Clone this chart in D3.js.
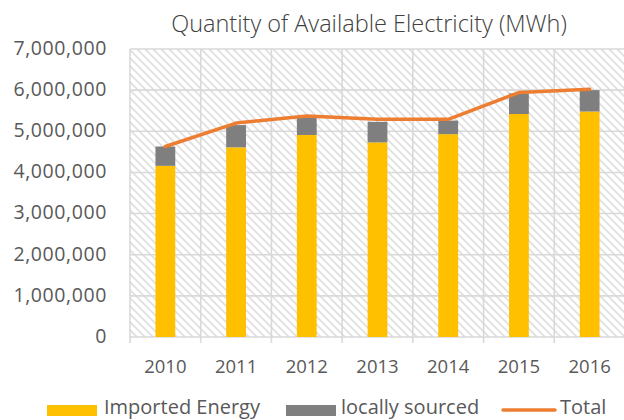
<!DOCTYPE html>
<head>
<meta charset="utf-8">
<title>Quantity of Available Electricity</title>
<style>
   body {
		   margin: 0;
		   background: #ffffff;
   }
   text {
		   font-family: "Open Sans", "Noto Sans", sans-serif;
		   fill: #595959;
   }
   .title {
		   font-weight: 300;
		   font-size: 23.5px;
		   fill: #404040;
   }
   .axis text {
		   font-size: 18.5px;
   }
   .yaxis text {
		   font-size: 19.5px;
		   letter-spacing: 0.6px;
   }
   .legend text {
		   font-size: 20px;
   }
</style>
</head>
<body>
<div id="chartDiv"></div>

<script src="https://d3js.org/d3.v7.min.js"></script>
<script>

   var years = ["2010", "2011", "2012", "2013", "2014", "2015", "2016"];
   var imported = [4160000, 4610000, 4910000, 4730000, 4930000, 5420000, 5480000];
   var local = [470000, 540000, 430000, 500000, 330000, 500000, 520000];
   var total = [4630000, 5200000, 5370000, 5290000, 5290000, 5940000, 6020000];
   var yTicks = [0, 1000000, 2000000, 3000000, 4000000, 5000000, 6000000, 7000000];
   var seriesNames = ["Imported Energy", "locally sourced", "Total"];

   var width = 624, height = 420;
   var plotLeft = 130, plotRight = 625, plotTop = 49, plotBottom = 337;

   var svg = d3.select("#chartDiv")
	 .append("svg")
	   .attr("width", width)
	   .attr("height", height);

   //	hatch pattern for the plot area
   var pat = svg.append("defs").append("pattern")
	   .attr("id", "hatch")
	   .attr("patternUnits", "userSpaceOnUse")
	   .attr("width", 8)
	   .attr("height", 8);
   pat.append("rect").attr("width", 8).attr("height", 8).attr("fill", "#ffffff");
   pat.append("path")
	   .attr("d", "M-1,-1 L9,9 M-1,7 L1,9 M7,-1 L9,1")
	   .attr("stroke", "#e0e0e0")
	   .attr("stroke-width", 1.8);

   var x = d3.scaleBand()
	   .domain(years)
	   .range([plotLeft, plotRight])
	   .paddingInner(0.72)
	   .paddingOuter(0.36);
   var step = x.step();
   var y = d3.scaleLinear()
	   .domain([0, 7000000])
	   .range([plotBottom, plotTop]);

   svg.append("rect")
	   .attr("x", plotLeft)
	   .attr("y", plotTop)
	   .attr("width", plotRight - plotLeft)
	   .attr("height", plotBottom - plotTop)
	   .attr("fill", "url(#hatch)");

   //	gridlines
   svg.append("g").selectAll("line")
	   .data(yTicks)
	   .enter().append("line")
	   .attr("x1", plotLeft).attr("x2", plotRight)
	   .attr("y1", function(d) { return y(d); })
	   .attr("y2", function(d) { return y(d); })
	   .attr("stroke", "#d9d9d9")
	   .attr("stroke-width", 1.6);

   var bounds = years.map(function(d) { return x(d) + x.bandwidth() / 2 - step / 2; });
   bounds.push(bounds[bounds.length - 1] + step);
   svg.append("g").selectAll("line")
	   .data(bounds)
	   .enter().append("line")
	   .attr("x1", function(d) { return d; })
	   .attr("x2", function(d) { return d; })
	   .attr("y1", plotTop).attr("y2", plotBottom + 6)
	   .attr("stroke", "#d9d9d9")
	   .attr("stroke-width", 1.6);

   //	y axis labels
   svg.append("g").attr("class", "yaxis").selectAll("text")
	   .data(yTicks)
	   .enter().append("text")
	   .attr("x", 107)
	   .attr("y", function(d) { return y(d); })
	   .attr("dy", "0.3em")
	   .attr("text-anchor", "end")
	   .text(function(d) { return d3.format(",")(d); });

   //	x axis labels
   svg.append("g").attr("class", "axis").selectAll("text")
	   .data(years)
	   .enter().append("text")
	   .attr("x", function(d) { return x(d) + x.bandwidth() / 2; })
	   .attr("y", 373)
	   .attr("text-anchor", "middle")
	   .text(function(d) { return d; });

   //	stacked bars
   svg.append("g").selectAll("rect")
	   .data(years)
	   .enter().append("rect")
	   .attr("x", function(d) { return x(d); })
	   .attr("width", x.bandwidth())
	   .attr("y", function(d, i) { return y(imported[i]); })
	   .attr("height", function(d, i) { return y(0) - y(imported[i]); })
	   .attr("fill", "#ffc000");

   svg.append("g").selectAll("rect")
	   .data(years)
	   .enter().append("rect")
	   .attr("x", function(d) { return x(d); })
	   .attr("width", x.bandwidth())
	   .attr("y", function(d, i) { return y(imported[i] + local[i]); })
	   .attr("height", function(d, i) { return y(imported[i]) - y(imported[i] + local[i]); })
	   .attr("fill", "#7f7f7f");

   //	total line
   var line = d3.line()
	   .x(function(d, i) { return x(years[i]) + x.bandwidth() / 2; })
	   .y(function(d) { return y(d); });
   svg.append("path")
	   .datum(total)
	   .attr("d", line)
	   .attr("fill", "none")
	   .attr("stroke", "#ed7d31")
	   .attr("stroke-width", 3.5)
	   .attr("stroke-linecap", "round")
	   .attr("stroke-linejoin", "round");

   //	title
   svg.append("text")
	   .attr("class", "title")
	   .attr("x", 369)
	   .attr("y", 32)
	   .attr("text-anchor", "middle")
	   .text("Quantity of Available Electricity (MWh)");

   //	legend
   var lg = svg.append("g").attr("class", "legend");
   lg.append("rect").attr("x", 47).attr("y", 405).attr("width", 50).attr("height", 11).attr("fill", "#ffc000");
   lg.append("text").attr("x", 104).attr("y", 414).text(seriesNames[0]);
   lg.append("rect").attr("x", 286).attr("y", 405).attr("width", 50).attr("height", 11).attr("fill", "#7f7f7f");
   lg.append("text").attr("x", 341).attr("y", 414).text(seriesNames[1]);
   lg.append("line").attr("x1", 503).attr("x2", 555).attr("y1", 410).attr("y2", 410)
	   .attr("stroke", "#ed7d31").attr("stroke-width", 3.5).attr("stroke-linecap", "round");
   lg.append("text").attr("x", 560).attr("y", 414).text(seriesNames[2]);

</script>
</body>
